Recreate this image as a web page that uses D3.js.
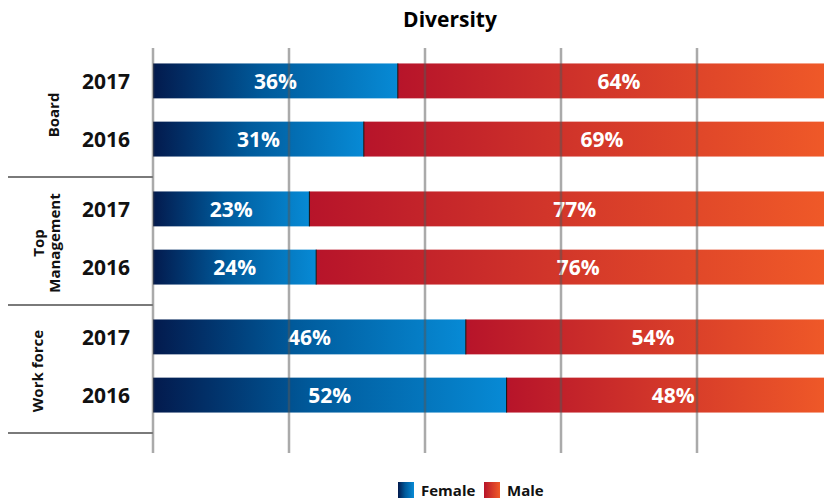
<!DOCTYPE html>
<html>
<head>
<meta charset="utf-8">
<script src="https://cdn.jsdelivr.net/npm/d3@7"></script>
<style>
  body { margin: 0; background: #fff; }
  text { font-family: "Open Sans", sans-serif; font-weight: 700; }
</style>
</head>
<body>
<div id="vis"></div>
<script>
// data
var groups = ["Board", "Top Management", "Work force"];
var years = ["2017", "2016"];
var female = [[36, 31], [23, 24], [46, 52]];
var male = [[64, 69], [77, 76], [54, 48]];
var gridTicks = [0, 20, 40, 60, 80];
var legendItems = ["Female", "Male"];

// SVG geometry
var width = 824;
var height = 500;

var svg = d3.select('#vis')
  .append("svg")
  .attr('width', width)
  .attr('height', height);

var x = d3.scaleLinear()
  .domain([0, 100])
  .range([153, 833]);

var yGroup = d3.scaleBand()
  .domain(groups)
  .range([46, 430]);

var yYear = d3.scaleBand()
  .domain(years)
  .range([0, yGroup.bandwidth()])
  .paddingInner(0.4)
  .paddingOuter(0.3);

// gradients
var defs = svg.append("defs");
function grad(id, stops) {
  var g = defs.append("linearGradient").attr("id", id);
  stops.forEach(function(s) {
    g.append("stop").attr("offset", s[0]).attr("stop-color", s[1]);
  });
}
grad("gFemale", [["0%", "#031a4d"], ["45%", "#005a9b"], ["100%", "#078ad5"]]);
grad("gMale", [["0%", "#b7142a"], ["45%", "#d1352a"], ["100%", "#f05a28"]]);

// title
svg.append("text")
  .attr("x", 450)
  .attr("y", 27)
  .attr("text-anchor", "middle")
  .attr("font-size", 21)
  .text("Diversity");

// rows
var rows = [];
groups.forEach(function(g, i) {
  years.forEach(function(yr, j) {
    rows.push({ group: g, year: yr, f: female[i][j], m: male[i][j] });
  });
});

var row = svg.selectAll(".row")
  .data(rows)
  .enter().append("g")
  .attr("transform", function(d) {
    return "translate(0," + (yGroup(d.group) + yYear(d.year)) + ")";
  });

var bh = yYear.bandwidth();

row.append("rect")
  .attr("x", x(0))
  .attr("width", function(d) { return x(d.f) - x(0); })
  .attr("height", bh)
  .attr("fill", "url(#gFemale)");

row.append("rect")
  .attr("x", function(d) { return x(d.f); })
  .attr("width", function(d) { return x(d.f + d.m) - x(d.f); })
  .attr("height", bh)
  .attr("fill", "url(#gMale)");

row.append("line")
  .attr("x1", function(d) { return x(d.f); })
  .attr("x2", function(d) { return x(d.f); })
  .attr("y1", 0)
  .attr("y2", bh)
  .attr("stroke", "#111")
  .attr("stroke-width", 1);

// year labels
row.append("text")
  .attr("x", 106)
  .attr("y", bh / 2 + 8)
  .attr("text-anchor", "middle")
  .attr("font-size", 21)
  .attr("fill", "#111")
  .text(function(d) { return d.year; });

// value labels
row.append("text")
  .attr("x", function(d) { return (x(0) + x(d.f)) / 2; })
  .attr("y", bh / 2 + 8)
  .attr("text-anchor", "middle")
  .attr("font-size", 21)
  .attr("fill", "#fff")
  .text(function(d) { return d.f + "%"; });

row.append("text")
  .attr("x", function(d) { return (x(d.f) + Math.min(x(d.f + d.m), width)) / 2 + 8; })
  .attr("y", bh / 2 + 8)
  .attr("text-anchor", "middle")
  .attr("font-size", 21)
  .attr("fill", "#fff")
  .text(function(d) { return d.m + "%"; });

// gridlines on top of bars
svg.append("g")
  .selectAll("line")
  .data(gridTicks)
  .enter().append("line")
  .attr("x1", function(d) { return x(d); })
  .attr("x2", function(d) { return x(d); })
  .attr("y1", 48)
  .attr("y2", 453)
  .attr("stroke", "#555")
  .attr("stroke-opacity", 0.5)
  .attr("stroke-width", 2.5);

// group separators
svg.append("g")
  .selectAll("line")
  .data(groups)
  .enter().append("line")
  .attr("x1", 8)
  .attr("x2", x(0))
  .attr("y1", function(d) { return yGroup(d) + yGroup.bandwidth() + 3; })
  .attr("y2", function(d) { return yGroup(d) + yGroup.bandwidth() + 3; })
  .attr("stroke", "#7a7a7a")
  .attr("stroke-width", 2);

// group labels
var labelX = { "Board": 54, "Top Management": 47, "Work force": 38 };
var gl = svg.append("g")
  .selectAll("text")
  .data(groups)
  .enter().append("text")
  .attr("transform", function(d) {
    return "translate(" + labelX[d] + "," + (yGroup(d) + yGroup.bandwidth() / 2 + 5) + ") rotate(-90)";
  })
  .attr("text-anchor", "middle")
  .attr("font-size", 15)
  .attr("fill", "#111");

gl.each(function(d) {
  var words = d === "Top Management" ? ["Top", "Management"] : [d];
  var t = d3.select(this);
  words.forEach(function(w, i) {
    t.append("tspan")
      .attr("x", 0)
      .attr("y", (i - (words.length - 1) / 2) * 16 + 5)
      .text(w);
  });
});

// legend
var legend = svg.append("g")
  .attr("transform", "translate(398,482)");
var lx = [0, 86];
legendItems.forEach(function(name, i) {
  legend.append("rect")
    .attr("x", lx[i])
    .attr("y", 0)
    .attr("width", 16)
    .attr("height", 16)
    .attr("fill", i === 0 ? "url(#gFemale)" : "url(#gMale)");
  legend.append("text")
    .attr("x", lx[i] + 23)
    .attr("y", 14)
    .attr("font-size", 15)
    .attr("fill", "#111")
    .text(name);
});
</script>
</body>
</html>
